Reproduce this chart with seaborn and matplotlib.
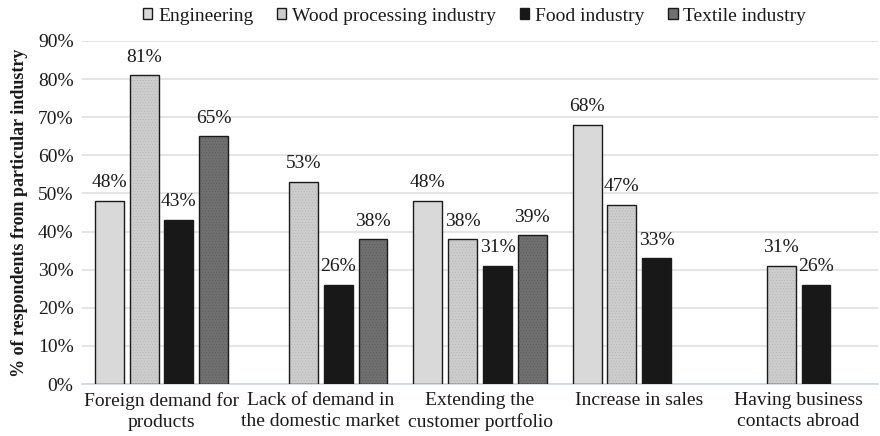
import numpy as np
import pandas as pd
import matplotlib
matplotlib.use("Agg")
import matplotlib.pyplot as plt
import seaborn as sns

categories = ["Foreign demand for\nproducts", "Lack of demand in\nthe domestic market",
              "Extending the\ncustomer portfolio", "Increase in sales",
              "Having business\ncontacts abroad"]
series = ["Engineering", "Wood processing industry", "Food industry", "Textile industry"]
engineering = [48, np.nan, 48, 68, np.nan]
wood = [81, 53, 38, 47, 31]
food = [43, 26, 31, 33, 26]
textile = [65, 38, 39, np.nan, np.nan]
yticks = [0, 10, 20, 30, 40, 50, 60, 70, 80, 90]

values = [engineering, wood, food, textile]
rows = []
for s, vals in zip(series, values):
    for c, v in zip(categories, vals):
        rows.append({"category": c, "series": s, "value": v / 100 if not np.isnan(v) else np.nan})
df = pd.DataFrame(rows)

sns.set_theme(style="white")
plt.rcParams["font.family"] = ["Liberation Serif", "DejaVu Serif"]
plt.rcParams["hatch.linewidth"] = 0.3

colors = ["#d9d9d9", "#cdcdcd", "#181818", "#707070"]
hatches = [None, "......", None, "......"]
hatch_colors = ["#d9d9d9", "#b0b0b0", "#181818", "#565656"]

FS = 14

fig = plt.figure(figsize=(8.8, 4.36), dpi=100)
ax = fig.add_axes([0.093, 0.119, 0.905, 0.787])

sns.barplot(data=df, x="category", y="value", hue="series", hue_order=series,
            order=categories, palette=colors, width=0.875, gap=0.17,
            edgecolor="#1a1a1a", linewidth=1.0, ax=ax, legend=True, zorder=3)

for cont, h, hc in zip(ax.containers, hatches, hatch_colors):
    for p in cont.patches:
        if p is None:
            continue
        if h:
            p.set_hatch(h)
            p._hatch_color = matplotlib.colors.to_rgba(hc)
        hgt = p.get_height()
        if hgt is None or np.isnan(hgt):
            continue
        ax.annotate(f"{round(hgt * 100)}%", (p.get_x() + p.get_width() / 2, hgt),
                    xytext=(0, 7), textcoords="offset points", ha="center", va="bottom",
                    fontsize=FS, color="#1a1a1a")

ax.set_ylim(0, 0.9)
ax.set_yticks([t / 100 for t in yticks])
ax.set_yticklabels([f"{t}%" for t in yticks], fontsize=FS, color="#1a1a1a")
ax.tick_params(axis="x", labelsize=FS, colors="#1a1a1a", length=0, pad=6)
for lbl in ax.get_xticklabels():
    lbl.set_linespacing(1.3)
ax.tick_params(axis="y", length=0, pad=6)
ax.set_xlabel("")
ax.set_ylabel("% of respondents from particular industry", fontsize=13,
              fontweight="bold", color="#1a1a1a", labelpad=7)
ax.yaxis.grid(True, color="#e3e3e3", linewidth=1.3, zorder=0)
ax.set_axisbelow(True)
for s in ["top", "right", "left"]:
    ax.spines[s].set_visible(False)
ax.spines["bottom"].set_color("#d0d8e0")
ax.spines["bottom"].set_linewidth(1.3)
ax.set_xlim(-0.5, 4.5)

handles, labs = ax.get_legend_handles_labels()
leg = ax.legend(handles, labs, loc="lower center", bbox_to_anchor=(0.493, 1.025), ncol=4,
                frameon=False, fontsize=FS, handlelength=0.5, handleheight=0.5,
                handletextpad=0.3, columnspacing=1.2, borderaxespad=0)
for t in leg.get_texts():
    t.set_color("#1a1a1a")

fig.savefig("out.png", dpi=100)
